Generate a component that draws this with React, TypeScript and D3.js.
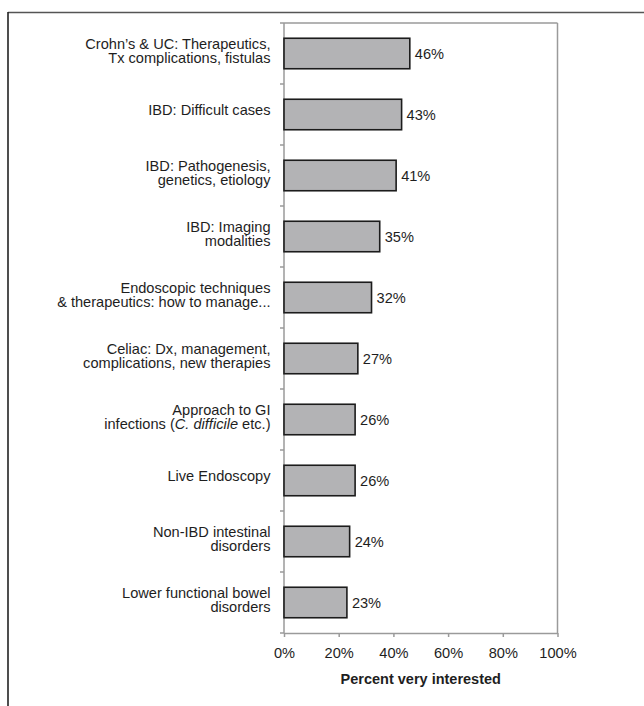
import React, { useEffect, useRef } from "react";
import * as d3 from "d3";

const categoryLines: string[][] = [
  ["Crohn’s & UC: Therapeutics,", "Tx complications, fistulas"],
  ["IBD: Difficult cases"],
  ["IBD: Pathogenesis,", "genetics, etiology"],
  ["IBD: Imaging", "modalities"],
  ["Endoscopic techniques", "& therapeutics: how to manage..."],
  ["Celiac: Dx, management,", "complications, new therapies"],
  ["Approach to GI", "infections (*C. difficile* etc.)"],
  ["Live Endoscopy"],
  ["Non-IBD intestinal", "disorders"],
  ["Lower functional bowel", "disorders"],
];
const values: number[] = [46, 43, 41, 35, 32, 27, 26, 26, 24, 23];
const xTicks: number[] = [0, 20, 40, 60, 80, 100];
const xTitle = "Percent very interested";

const W = 644;
const H = 706;
const FONT = "'Liberation Sans', Arial, Helvetica, sans-serif";
const FS = 14.6;
const TEXT = "#1e1e1e";
const AXIS = "#9a9a9a";

export default function App() {
  const xAxisRef = useRef<SVGGElement>(null);

  const ids = categoryLines.map((_, i) => String(i));
  const x = d3.scaleLinear().domain([0, 100]).range([284, 557.5]);
  const y = d3.scaleBand<string>().domain(ids).range([23, 633]).paddingInner(0.5).paddingOuter(0.25);
  const step = y.step();
  const top = 23;
  const bottom = 633;

  useEffect(() => {
    if (!xAxisRef.current) return;
    const g = d3.select(xAxisRef.current);
    g.selectAll("*").remove();
    g.call(
      d3
        .axisBottom(x)
        .tickValues(xTicks)
        .tickSizeInner(4)
        .tickSizeOuter(0)
        .tickPadding(10.5)
        .tickFormat((d) => `${d}%`)
    );
    g.select(".domain").attr("stroke", AXIS).attr("stroke-width", 1.5);
    g.selectAll(".tick line").attr("stroke", AXIS).attr("stroke-width", 1.5);
    g.selectAll(".tick text")
      .attr("font-family", FONT)
      .attr("font-size", FS)
      .attr("fill", TEXT);
  }, []);

  const boundaries = d3.range(ids.length + 1).map((i) => top + i * step);

  const renderLine = (line: string) => {
    const parts = line.split("*");
    return parts.map((p, k) => (
      <tspan key={k} fontStyle={k % 2 === 1 ? "italic" : "normal"}>
        {p}
      </tspan>
    ));
  };

  return (
    <svg
      width={W}
      height={H}
      style={{ position: "absolute", left: 0, top: 0, display: "block", background: "#fff" }}
    >
      {/* outer frame (cropped) */}
      <line x1={8} y1={12.5} x2={W} y2={12.5} stroke="#555" strokeWidth={1.5} />
      <line x1={8} y1={12} x2={8} y2={H} stroke="#222" strokeWidth={1.6} />

      {/* plot border top & right */}
      <line x1={x(0)} y1={top} x2={x(100)} y2={top} stroke={AXIS} strokeWidth={1.5} />
      <line x1={x(100)} y1={top} x2={x(100)} y2={bottom} stroke={AXIS} strokeWidth={1.5} />

      {/* left axis */}
      <line x1={x(0)} y1={top} x2={x(0)} y2={bottom} stroke={AXIS} strokeWidth={1.5} />
      {boundaries.map((b, i) => (
        <line key={i} x1={x(0) - 4} y1={b} x2={x(0)} y2={b} stroke={AXIS} strokeWidth={1.5} />
      ))}

      {/* bars */}
      {values.map((v, i) => (
        <rect
          key={i}
          x={x(0)}
          y={y(ids[i])!}
          width={x(v) - x(0)}
          height={y.bandwidth()}
          fill="#b3b3b5"
          stroke="#1c1c1c"
          strokeWidth={1.6}
        />
      ))}

      {/* value labels */}
      {values.map((v, i) => (
        <text
          key={i}
          x={x(v) + 5}
          y={y(ids[i])! + y.bandwidth() / 2 + 5.5}
          fontFamily={FONT}
          fontSize={FS}
          fill={TEXT}
        >
          {`${v}%`}
        </text>
      ))}

      {/* category labels */}
      {categoryLines.map((lines, i) => {
        const c = y(ids[i])! + y.bandwidth() / 2;
        const ys = lines.length === 1 ? [c + 0.5] : [c - 4.8, c + 9.2];
        return (
          <text key={i} fontFamily={FONT} fontSize={FS} fill={TEXT} textAnchor="end">
            {lines.map((ln, k) => (
              <tspan key={k} x={270.5} y={ys[k]}>
                {renderLine(ln)}
              </tspan>
            ))}
          </text>
        );
      })}

      {/* x axis */}
      <g ref={xAxisRef} transform={`translate(0,${bottom})`} />

      {/* x title */}
      <text
        x={(x(0) + x(100)) / 2}
        y={683.5}
        textAnchor="middle"
        fontFamily={FONT}
        fontSize={14.5}
        fontWeight="bold"
        fill={TEXT}
      >
        {xTitle}
      </text>
    </svg>
  );
}
